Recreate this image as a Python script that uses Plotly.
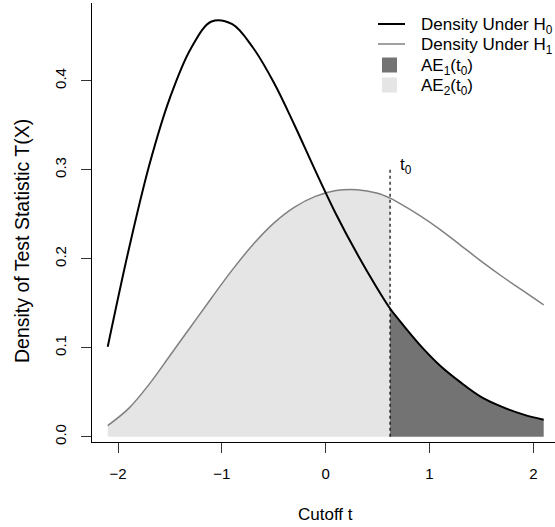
import plotly.graph_objects as go

# ---------------- data ----------------
x_h0 = [-2.1, -1.9, -1.7, -1.5, -1.3, -1.1, -0.9, -0.7, -0.5, -0.3, -0.1,
        0.1, 0.3, 0.5, 0.62, 0.7, 0.9, 1.1, 1.3, 1.5, 1.7, 1.9, 2.1]
y_h0 = [0.101, 0.209, 0.305, 0.381, 0.436, 0.4665, 0.4635, 0.437, 0.398, 0.350, 0.299,
        0.250, 0.206, 0.166, 0.144, 0.132, 0.104, 0.080, 0.061, 0.0445, 0.0335, 0.0251, 0.019]

x_h1 = [-2.1, -1.9, -1.7, -1.5, -1.3, -1.1, -0.9, -0.7, -0.5, -0.3, -0.1,
        0.1, 0.3, 0.5, 0.62, 0.7, 0.9, 1.1, 1.3, 1.5, 1.7, 1.9, 2.1]
y_h1 = [0.0125, 0.0315, 0.0591, 0.0912, 0.1236, 0.1559, 0.1874, 0.216, 0.240, 0.258, 0.270,
        0.2765, 0.2775, 0.2735, 0.268, 0.263, 0.249, 0.233, 0.215, 0.197, 0.180, 0.164, 0.148]

t0 = 0.62
t0_line_y = [0.0, 0.3]

x_ticks = [-2, -1, 0, 1, 2]
y_ticks = [0.0, 0.1, 0.2, 0.3, 0.4]
y_tick_labels = ["0.0", "0.1", "0.2", "0.3", "0.4"]

legend_labels = ["Density Under H<sub>0</sub>", "Density Under H<sub>1</sub>",
                 "AE<sub>1</sub>(t<sub>0</sub>)", "AE<sub>2</sub>(t<sub>0</sub>)"]

# ---------------- styles ----------------
BLACK = "#000000"
GRAY_LINE = "#808080"
DARK_FILL = "#737373"
LIGHT_FILL = "#E5E5E5"
FONT = "Liberation Sans, Arial, Helvetica, sans-serif"

# fill regions derived from the curves
ae2_x = [x for x in x_h1 if x <= t0]
ae2_y = [y for x, y in zip(x_h1, y_h1) if x <= t0]
ae1_x = [x for x in x_h0 if x >= t0]
ae1_y = [y for x, y in zip(x_h0, y_h0) if x >= t0]

fig = go.Figure()
fig.add_trace(go.Scatter(x=ae2_x, y=ae2_y, mode="lines", fill="tozeroy",
                         fillcolor=LIGHT_FILL, line=dict(width=0, shape="spline"),
                         hoverinfo="skip"))
fig.add_trace(go.Scatter(x=ae1_x, y=ae1_y, mode="lines", fill="tozeroy",
                         fillcolor=DARK_FILL, line=dict(width=0, shape="spline"),
                         hoverinfo="skip"))
fig.add_trace(go.Scatter(x=x_h1, y=y_h1, mode="lines",
                         line=dict(color=GRAY_LINE, width=1.5, shape="spline")))
fig.add_trace(go.Scatter(x=x_h0, y=y_h0, mode="lines",
                         line=dict(color=BLACK, width=2, shape="spline")))
fig.add_trace(go.Scatter(x=[t0, t0], y=t0_line_y, mode="lines",
                         line=dict(color=BLACK, width=1.2, dash="dot")))

# plot area in pixels
L, R, T, B = 92, 555, 3, 442
W, H = 555, 527


def pxx(p):
    return (p - L) / (R - L)


def pxy(p):
    return (B - p) / (B - T)


fig.update_layout(
    width=W, height=H,
    margin=dict(l=L, r=W - R, t=T, b=H - B, pad=0),
    plot_bgcolor="white", paper_bgcolor="white",
    showlegend=False,
    font=dict(family=FONT, size=15, color="black"),
)
fig.update_xaxes(range=[-2.2514, 2.209], tickvals=x_ticks, ticks="outside",
                 ticklen=10, tickwidth=1, tickcolor="#333333", showline=True,
                 linecolor="black", linewidth=1, showgrid=False, zeroline=False,
                 ticklabelstandoff=8, tickfont=dict(size=15))
fig.update_yaxes(range=[-0.00596, 0.4873], tickvals=y_ticks, ticktext=y_tick_labels,
                 tickangle=-90, ticks="outside", ticklen=10, tickwidth=1,
                 tickcolor="#333333", showline=True, linecolor="black", linewidth=1,
                 showgrid=False, zeroline=False, ticklabelstandoff=9,
                 tickfont=dict(size=15))

ann = []
ann.append(dict(text="Cutoff t", xref="paper", yref="paper", x=pxx(325.7), y=pxy(514),
                xanchor="center", yanchor="middle", showarrow=False,
                font=dict(size=17, family=FONT)))
ann.append(dict(text="Density of Test Statistic T(X)", xref="paper", yref="paper",
                x=pxx(22), y=pxy(241), xanchor="center", yanchor="middle",
                textangle=-90, showarrow=False, font=dict(size=19.5, family=FONT)))
ann.append(dict(text="t<sub>0</sub>", xref="x", yref="y", x=t0, y=t0_line_y[1],
                xanchor="left", yanchor="middle", xshift=8, yshift=4, showarrow=False,
                font=dict(size=17, family=FONT)))

shapes = []
row_y = [24, 44, 65, 85]
# legend symbols
shapes.append(dict(type="line", xref="paper", yref="paper", x0=pxx(378), x1=pxx(405),
                   y0=pxy(row_y[0]), y1=pxy(row_y[0]), line=dict(color=BLACK, width=2)))
shapes.append(dict(type="line", xref="paper", yref="paper", x0=pxx(378), x1=pxx(405),
                   y0=pxy(row_y[1]), y1=pxy(row_y[1]), line=dict(color=GRAY_LINE, width=1.5)))
for ry, col in zip(row_y[2:], [DARK_FILL, LIGHT_FILL]):
    shapes.append(dict(type="rect", xref="paper", yref="paper", x0=pxx(382), x1=pxx(397),
                       y0=pxy(ry + 7.5), y1=pxy(ry - 7.5), line=dict(width=0),
                       fillcolor=col))
for ry, lab in zip(row_y, legend_labels):
    ann.append(dict(text=lab, xref="paper", yref="paper", x=pxx(419), y=pxy(ry + 2),
                    xanchor="left", yanchor="middle", showarrow=False,
                    font=dict(size=17, family=FONT)))

fig.update_layout(annotations=ann, shapes=shapes)
fig.write_html("out.html")
